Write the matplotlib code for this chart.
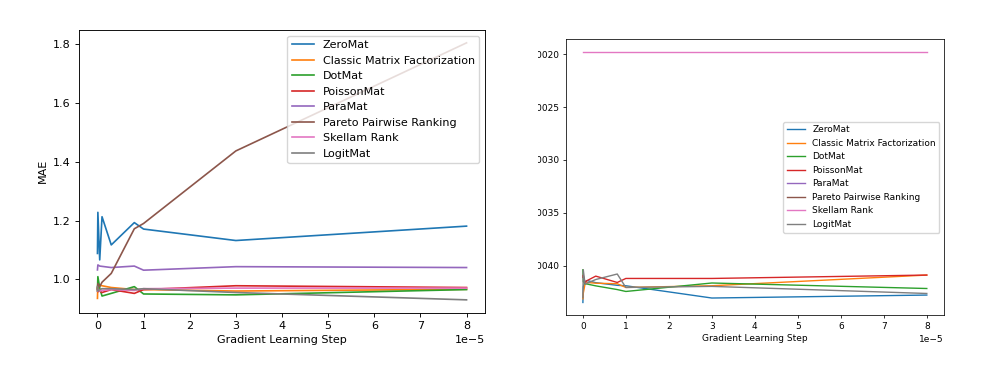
import matplotlib
matplotlib.use("Agg")
import matplotlib.pyplot as plt
import numpy as np
from matplotlib.transforms import Bbox, TransformedBbox

# learning steps tried
steps = [1e-8, 1e-7, 5e-7, 1e-6, 3e-6, 8e-6, 1e-5, 3e-5, 8e-5]

labels = ["ZeroMat", "Classic Matrix Factorization", "DotMat", "PoissonMat",
          "ParaMat", "Pareto Pairwise Ranking", "Skellam Rank", "LogitMat"]

# left panel: MAE
mae_zeromat = [1.088, 1.228, 1.066, 1.213, 1.117, 1.193, 1.171, 1.132, 1.181]
mae_classic = [0.935, 0.985, 0.980, 0.978, 0.972, 0.965, 0.965, 0.960, 0.966]
mae_dotmat = [0.960, 1.009, 0.970, 0.943, 0.952, 0.975, 0.950, 0.947, 0.965]
mae_poisson = [0.970, 0.958, 0.960, 0.955, 0.965, 0.952, 0.965, 0.978, 0.972]
mae_paramat = [1.032, 1.049, 1.045, 1.044, 1.040, 1.045, 1.031, 1.043, 1.040]
mae_pareto = [0.965, 0.985, 0.975, 0.990, 1.020, 1.172, 1.190, 1.437, 1.805]
mae_skellam = [0.960, 0.965, 0.960, 0.962, 0.965, 0.962, 0.968, 0.970, 0.970]
mae_logitmat = [0.975, 0.960, 0.965, 0.968, 0.968, 0.965, 0.968, 0.955, 0.930]

# right panel (ParaMat and Pareto not visible in the picture)
r_zeromat = [-0.004347, -0.004200, -0.004150, -0.004140, -0.004160, -0.004185, -0.004189, -0.004305, -0.004277]
r_classic = [-0.004312, -0.004260, -0.004175, -0.004158, -0.004165, -0.004170, -0.004205, -0.004189, -0.004088]
r_dotmat = [-0.004038, -0.004150, -0.004170, -0.004173, -0.004190, -0.004225, -0.004243, -0.004163, -0.004215]
r_poisson = [-0.004110, -0.004088, -0.004158, -0.004140, -0.004098, -0.004158, -0.004120, -0.004120, -0.004088]
r_paramat = [np.nan] * 9
r_pareto = [np.nan] * 9
r_skellam = [-0.001978] * 9
r_logitmat = [-0.004300, -0.004038, -0.004173, -0.004165, -0.004130, -0.004078, -0.004205, -0.004195, -0.004262]

left_series = [mae_zeromat, mae_classic, mae_dotmat, mae_poisson,
               mae_paramat, mae_pareto, mae_skellam, mae_logitmat]
right_series = [r_zeromat, r_classic, r_dotmat, r_poisson,
                r_paramat, r_pareto, r_skellam, r_logitmat]

W, H = 996, 365
fig = plt.figure(figsize=(W / 100, H / 100), dpi=100)

# left panel, drawn at roughly 0.8 of default scale
fs1 = 8
ax1 = fig.add_axes([79 / W, 1 - 312.7 / H, 406 / W, 282.7 / H])
for vals, lab in zip(left_series, labels):
    ax1.plot(steps, vals, label=lab, linewidth=1.2)
ax1.set_xlabel("Gradient Learning Step", fontsize=fs1, labelpad=3)
ax1.set_ylabel("MAE", fontsize=fs1)
ax1.tick_params(labelsize=fs1, length=2.8, width=0.65, pad=3)
ax1.xaxis.get_offset_text().set_fontsize(fs1)
for s in ax1.spines.values():
    s.set_linewidth(0.65)
ax1.legend(loc="upper right", fontsize=fs1)

# right panel, smaller scale
fs2 = 6.5
ax2 = fig.add_axes([565.7 / W, 1 - 315 / H, 378.3 / W, 275.7 / H])
for vals, lab in zip(right_series, labels):
    ax2.plot(steps, vals, label=lab, linewidth=1.0)
ax2.set_xlabel("Gradient Learning Step", fontsize=fs2, labelpad=2.5)
ax2.tick_params(labelsize=fs2, length=2.3, width=0.55, pad=2.5)
ax2.xaxis.get_offset_text().set_fontsize(fs2)
for s in ax2.spines.values():
    s.set_linewidth(0.55)
ax2.set_yticks([-0.0020, -0.0025, -0.0030, -0.0035, -0.0040])
ax2.legend(loc="center right", fontsize=fs2)

# the source image had the right panel's y labels cut off on the left
clip = TransformedBbox(Bbox.from_extents(538 / W, 0, 1, 1), fig.transFigure)
for t in ax2.yaxis.get_major_ticks():
    t.label1.set_clip_box(clip)
    t.label1.set_clip_on(True)

fig.savefig("out.png", dpi=100)
